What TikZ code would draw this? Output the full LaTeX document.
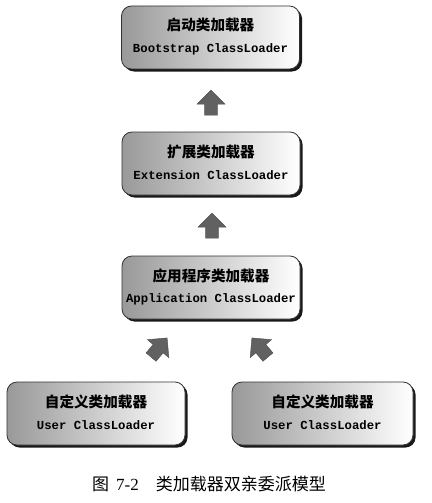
\documentclass[tikz,border=0pt]{standalone}
\usepackage{fontspec}
\newfontfamily\cjk{Noto Sans CJK SC}
\newfontfamily\mono{Liberation Mono}
\newfontfamily\capserif{Liberation Serif}
\usetikzlibrary{shadows,shapes.arrows}
\begin{document}
\begin{tikzpicture}[x=1pt,y=-1pt,
  loader/.style={draw=black!80, line width=0.8pt, rounded corners=10pt,
    left color=black!40, right color=white,
    minimum width=178pt, minimum height=63pt, inner sep=0pt,
    drop shadow={shadow xshift=2.5pt, shadow yshift=-2.5pt, fill=black, opacity=0.9}},
  blockarrow/.style={single arrow, fill=black!62, draw=black!70, line width=0.4pt,
    minimum height=25pt, minimum width=28pt,
    inner xsep=0pt, inner ysep=6pt},
  cn/.style={font=\cjk\bfseries\fontsize{14.6}{15}\selectfont, inner sep=0pt},
  en/.style={font=\mono\bfseries\fontsize{12.3}{13}\selectfont, inner sep=0pt}
]
\useasboundingbox (0,0) rectangle (431,503);
\fill[white] (0,0) rectangle (431,503);

% boxes
\node[loader] (boot) at (210.5,37.5) {};
\node[loader] (ext) at (211,163.5) {};
\node[loader] (app) at (211,287.5) {};
\node[loader] (user1) at (96,413.5) {};
\node[loader, minimum width=181pt] (user2) at (322.5,413.5) {};

% texts
\node[cn] (bootcn) at ([yshift=12pt]boot.center) {启动类加载器};
\node[en] (booten) at ([yshift=-12pt]boot.center) {Bootstrap ClassLoader};
\node[cn] (extcn) at ([yshift=12pt]ext.center) {扩展类加载器};
\node[en] (exten) at ([yshift=-12pt]ext.center) {Extension ClassLoader};
\node[cn] (appcn) at ([yshift=12pt]app.center) {应用程序类加载器};
\node[en] (appen) at ([yshift=-12pt]app.center) {Application ClassLoader};
\node[cn] (u1cn) at ([yshift=12pt]user1.center) {自定义类加载器};
\node[en] (u1en) at ([yshift=-12pt]user1.center) {User ClassLoader};
\node[cn] (u2cn) at ([yshift=12pt]user2.center) {自定义类加载器};
\node[en] (u2en) at ([yshift=-12pt]user2.center) {User ClassLoader};

% block arrows
\node[blockarrow, rotate=90] (a1) at (211,106) {};
\node[blockarrow, rotate=90] (a2) at (212,229) {};
\node[blockarrow, rotate=50] (a3) at (157,350) {};
\node[blockarrow, rotate=130] (a4) at (262,350) {};

% caption
\node[font=\fontsize{17}{19}\selectfont, anchor=west, inner sep=0pt] (cap) at (92,484)
  {{\cjk 图}\hspace{7pt}{\capserif 7-2}\hspace{17pt}{\cjk 类加载器双亲委派模型}};
\end{tikzpicture}
\end{document}
